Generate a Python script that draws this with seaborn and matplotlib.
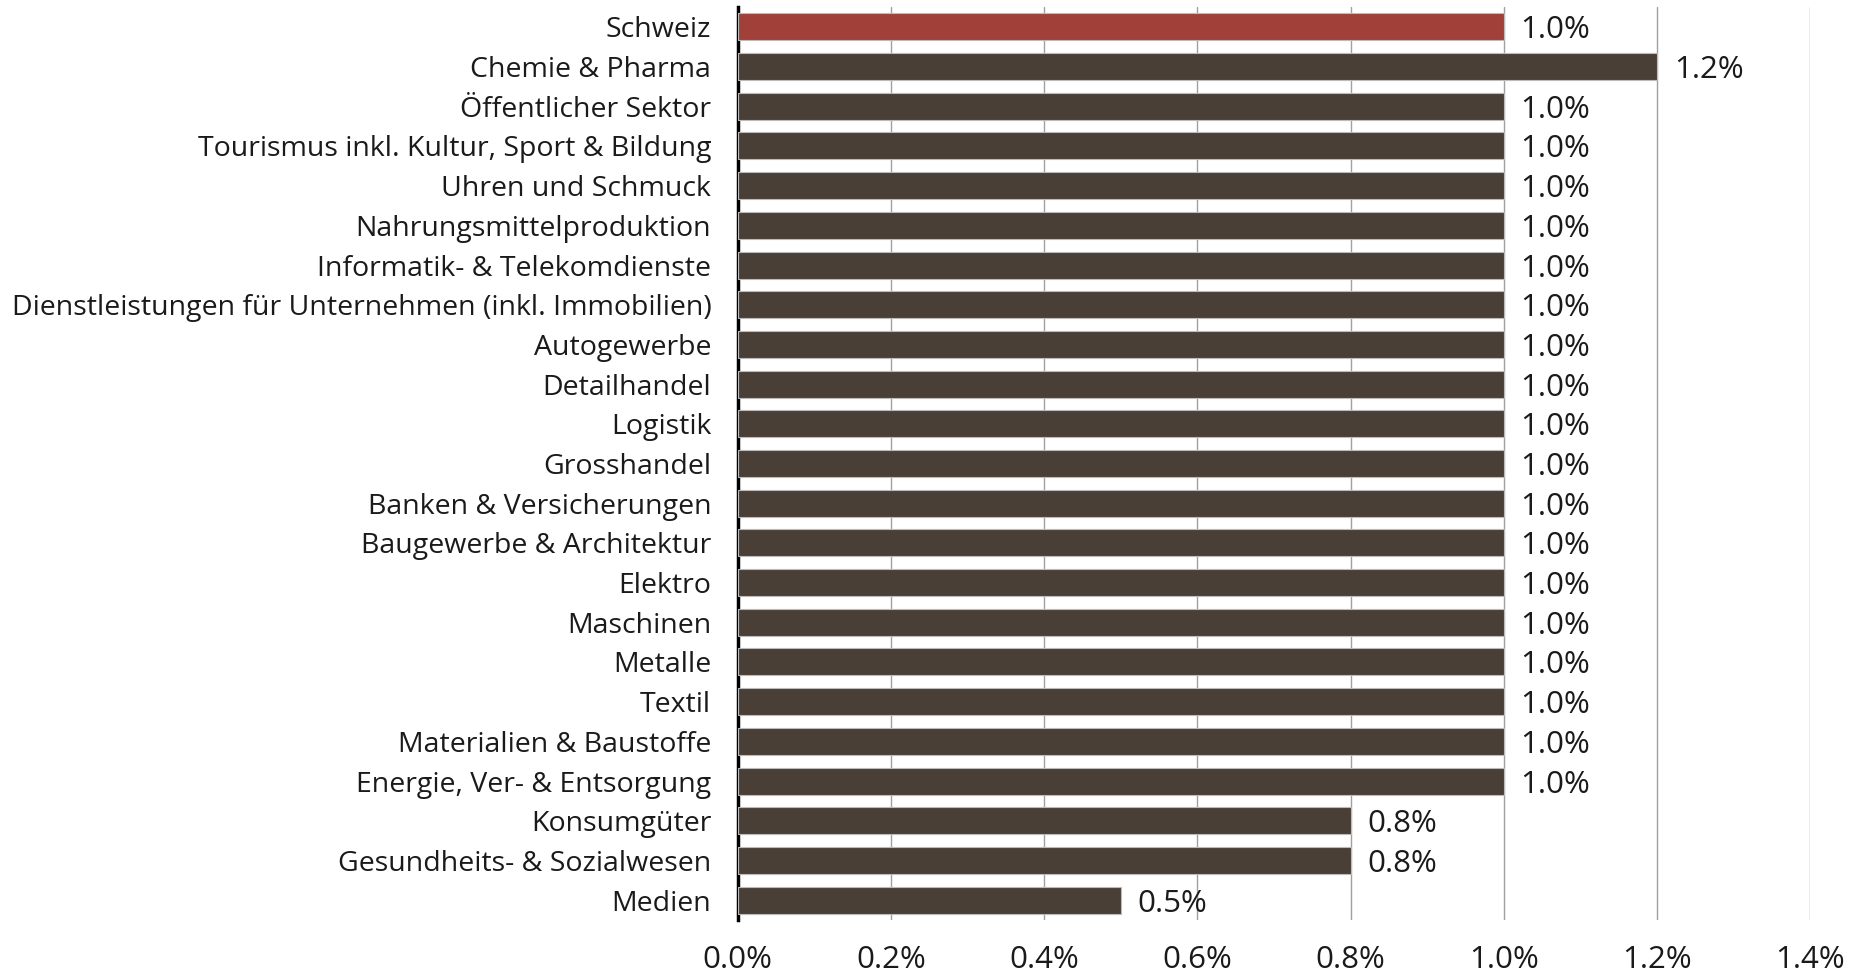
import pandas as pd
import seaborn as sns
import matplotlib.pyplot as plt
from matplotlib.ticker import FuncFormatter

sns.set_theme(style="white")
plt.rcParams['font.family'] = ['Open Sans', 'DejaVu Sans']

# daten
branchen = ["Schweiz", "Chemie & Pharma", "Öffentlicher Sektor",
            "Tourismus inkl. Kultur, Sport & Bildung", "Uhren und Schmuck",
            "Nahrungsmittelproduktion", "Informatik- & Telekomdienste",
            "Dienstleistungen für Unternehmen (inkl. Immobilien)", "Autogewerbe",
            "Detailhandel", "Logistik", "Grosshandel", "Banken & Versicherungen",
            "Baugewerbe & Architektur", "Elektro", "Maschinen", "Metalle", "Textil",
            "Materialien & Baustoffe", "Energie, Ver- & Entsorgung", "Konsumgüter",
            "Gesundheits- & Sozialwesen", "Medien"]
werte = [1.0, 1.2, 1.0, 1.0, 1.0, 1.0, 1.0, 1.0, 1.0, 1.0, 1.0, 1.0, 1.0,
         1.0, 1.0, 1.0, 1.0, 1.0, 1.0, 1.0, 0.8, 0.8, 0.5]

df = pd.DataFrame({"branche": branchen, "wert": werte})
farben = {b: ("#A04038" if b == "Schweiz" else "#4A3F36") for b in branchen}

fig = plt.figure(figsize=(18.63, 9.73), dpi=100)
ax = fig.add_axes([0.396, 0.0545, 0.5756, 0.9383])

sns.barplot(data=df, x="wert", y="branche", hue="branche", palette=farben,
            legend=False, width=0.68, saturation=1, edgecolor="#BBBBBB",
            linewidth=0.8, zorder=3, ax=ax)

# wertbeschriftungen
for i, v in enumerate(werte):
    ax.text(v + 0.022, i, f"{v:.1f}%", va="center_baseline", ha="left",
            fontsize=22.5, color="#1a1a1a")

ax.set_xlim(0, 1.4)
ax.set_ylim(22.5, -0.5)
ax.set_xticks([0, 0.2, 0.4, 0.6, 0.8, 1.0, 1.2, 1.4])
ax.xaxis.set_major_formatter(FuncFormatter(lambda x, _: f"{x:.1f}%"))
ax.grid(axis="x", color="#A0A0A0", linewidth=1.0, zorder=0)
ax.set_axisbelow(True)
ax.set_xlabel("")
ax.set_ylabel("")
for s in ["top", "right", "bottom"]:
    ax.spines[s].set_visible(False)
ax.spines["left"].set_color("black")
ax.spines["left"].set_linewidth(2.5)
ax.tick_params(axis="both", length=0, colors="#1a1a1a")
ax.tick_params(axis="y", pad=19, labelsize=20.5)
ax.tick_params(axis="x", pad=18, labelsize=22.5)

plt.savefig("out.png", dpi=100)
